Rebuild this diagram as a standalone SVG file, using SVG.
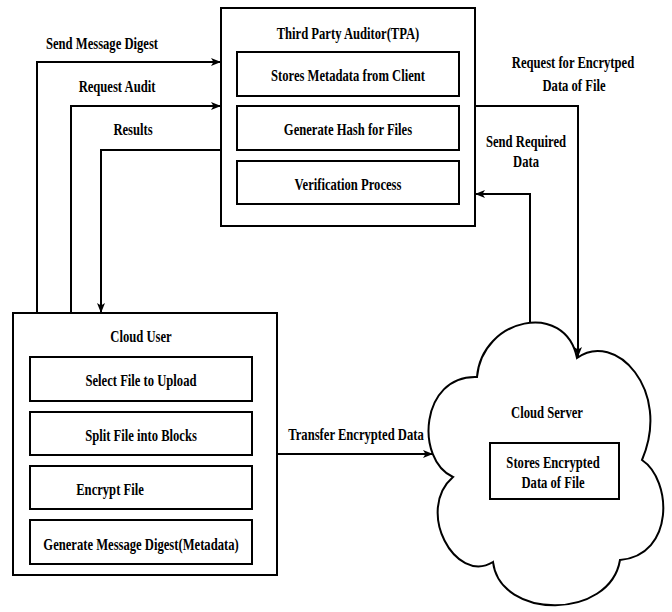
<svg xmlns="http://www.w3.org/2000/svg" width="672" height="612" viewBox="0 0 672 612">
<style>
.box{fill:#fff;stroke:#000;stroke-width:2}
.in{fill:#fff;stroke:#000;stroke-width:2}
.t{font-family:"Liberation Serif","Times New Roman",serif;font-weight:bold;font-size:16.5px;fill:#000;text-anchor:middle}
.ln{fill:none;stroke:#000;stroke-width:2}
</style>
<defs>
<marker id="ah" viewBox="0 0 10 8" refX="10" refY="4" markerWidth="10" markerHeight="8" markerUnits="userSpaceOnUse" orient="auto">
<path d="M0,0 L10,4 L0,8 L2.5,4 Z" fill="#000"/>
</marker>
</defs>
<rect width="672" height="612" fill="#fff"/>

<g id="tpa">
<rect class="box" x="221" y="8" width="254" height="218"/>
<text class="t" transform="translate(348,39) scale(0.765,1)">Third Party Auditor(TPA)</text>
<rect class="in" x="237" y="52" width="222" height="44"/>
<text class="t" transform="translate(348,81) scale(0.765,1)">Stores Metadata from Client</text>
<rect class="in" x="237" y="106" width="222" height="44"/>
<text class="t" transform="translate(348,135) scale(0.765,1)">Generate Hash for Files</text>
<rect class="in" x="237" y="161" width="222" height="43"/>
<text class="t" transform="translate(348,190) scale(0.765,1)">Verification Process</text>
</g>

<g id="user">
<rect class="box" x="13" y="313" width="264" height="262"/>
<text class="t" transform="translate(141,342) scale(0.765,1)">Cloud User</text>
<rect class="in" x="30" y="357" width="222" height="44"/>
<text class="t" transform="translate(141,386) scale(0.765,1)">Select File to Upload</text>
<rect class="in" x="30" y="412" width="222" height="43"/>
<text class="t" transform="translate(141,441) scale(0.765,1)">Split File into Blocks</text>
<rect class="in" x="30" y="466" width="222" height="43"/>
<text class="t" transform="translate(110,495) scale(0.765,1)">Encrypt File</text>
<rect class="in" x="30" y="520" width="222" height="44"/>
<text class="t" transform="translate(141,550) scale(0.765,1)">Generate Message Digest(Metadata)</text>
</g>

<g id="server">
<path d="M477,377 C482,318 565,300 577,358 C615,330 672,390 642,460 C672,480 675,555 620,560 C610,620 500,620 493,562 C455,585 415,510 453,477 C415,460 420,375 477,377 Z" fill="#fff" stroke="#000" stroke-width="2"/>
<text class="t" transform="translate(547,418) scale(0.765,1)">Cloud Server</text>
<rect class="in" x="490" y="443" width="129" height="56"/>
<text class="t" transform="translate(553,468) scale(0.765,1)">Stores Encrypted</text>
<text class="t" transform="translate(553,488) scale(0.765,1)">Data of File</text>
</g>

<g id="connectors">
<path class="ln" d="M37,313 V62 H221" marker-end="url(#ah)"/>
<path class="ln" d="M71,313 V106 H221" marker-end="url(#ah)"/>
<path class="ln" d="M221,150 H101 V313" marker-end="url(#ah)"/>
<path class="ln" d="M475,106 H578 V357" marker-end="url(#ah)"/>
<path class="ln" d="M530,323 V194 H475" marker-end="url(#ah)"/>
<path class="ln" d="M277,454 H433" marker-end="url(#ah)"/>
<text class="t" transform="translate(102,49) scale(0.765,1)">Send Message Digest</text>
<text class="t" transform="translate(117,92) scale(0.765,1)">Request Audit</text>
<text class="t" transform="translate(133,135) scale(0.765,1)">Results</text>
<text class="t" transform="translate(573,68) scale(0.765,1)">Request for Encrytped</text>
<text class="t" transform="translate(574,91) scale(0.765,1)">Data of File</text>
<text class="t" transform="translate(526,147) scale(0.765,1)">Send Required</text>
<text class="t" transform="translate(526,167) scale(0.765,1)">Data</text>
<text class="t" transform="translate(356,440) scale(0.765,1)">Transfer Encrypted Data</text>
</g>
</svg>
